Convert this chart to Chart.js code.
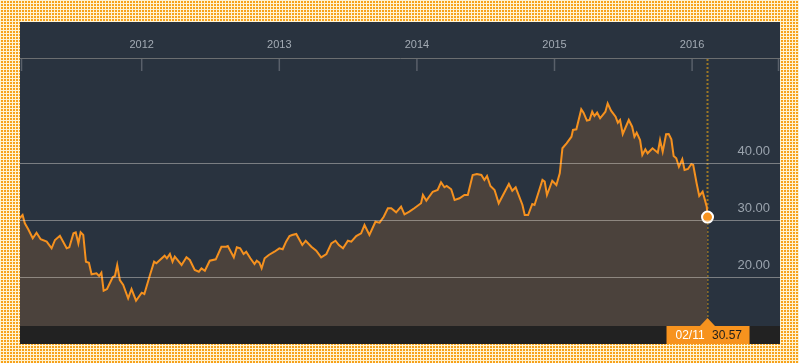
<!DOCTYPE html>
<html>
<head>
<meta charset="utf-8">
<script src="https://cdn.jsdelivr.net/npm/chart.js@4.4.1/dist/chart.umd.min.js"></script>
<style>
  html, body { margin: 0; padding: 0; }
  body {
    width: 799px; height: 363px; overflow: hidden; position: relative;
    background-color: #f7a21b;
    background-image: linear-gradient(90deg, #fff3d2 1px, transparent 1px), linear-gradient(#fff3d2 1px, transparent 1px);
    background-size: 3px 3px;
  }
  #panel { position: absolute; left: 20px; top: 22px; width: 760px; height: 322px; background: #29333f; }
</style>
</head>
<body>
<div id="panel"><canvas id="chart"></canvas></div>
<script>
var dates = ['2011-02-11','2011-02-19','2011-02-25','2011-03-06','2011-03-18','2011-03-28','2011-04-08','2011-04-24','2011-05-07','2011-05-16',
  '2011-05-29','2011-06-16','2011-06-23','2011-07-04','2011-07-10','2011-07-17','2011-07-23','2011-07-30','2011-08-06','2011-08-14',
  '2011-08-21','2011-09-03','2011-09-10','2011-09-16','2011-09-22','2011-10-01','2011-10-16','2011-10-22','2011-10-28','2011-11-04',
  '2011-11-13','2011-11-26','2011-12-05','2011-12-17','2012-01-01','2012-01-08','2012-01-23','2012-02-03','2012-02-09','2012-03-02',
  '2012-03-08','2012-03-16','2012-03-23','2012-03-29','2012-04-16','2012-04-29','2012-05-08','2012-05-21','2012-06-01','2012-06-08',
  '2012-06-17','2012-06-30','2012-07-16','2012-07-31','2012-08-13','2012-08-17','2012-09-02','2012-09-10','2012-09-19','2012-09-28',
  '2012-10-05','2012-10-16','2012-10-27','2012-11-02','2012-11-09','2012-11-15','2012-11-23','2012-12-04','2012-12-19','2013-01-01',
  '2013-01-10','2013-01-19','2013-01-28','2013-02-04','2013-02-15','2013-03-03','2013-03-12','2013-03-27','2013-04-09','2013-04-22',
  '2013-05-06','2013-05-19','2013-05-30','2013-06-08','2013-06-19','2013-07-02','2013-07-11','2013-07-24','2013-08-06','2013-08-15',
  '2013-08-28','2013-09-13','2013-09-24','2013-10-05','2013-10-16','2013-10-25','2013-11-07','2013-11-20','2013-11-29','2013-12-12',
  '2013-12-25','2014-01-12','2014-01-17','2014-01-26','2014-02-12','2014-02-25','2014-03-06','2014-03-15','2014-03-21','2014-04-02',
  '2014-04-11','2014-04-24','2014-05-07','2014-05-16','2014-05-29','2014-06-09','2014-06-21','2014-06-29','2014-07-06','2014-07-15',
  '2014-07-26','2014-08-06','2014-09-02','2014-09-11','2014-09-20','2014-10-08','2014-10-14','2014-10-23','2014-11-03','2014-11-09',
  '2014-11-30','2014-12-06','2014-12-12','2014-12-26','2015-01-06','2015-01-15','2015-01-22','2015-02-02','2015-02-15','2015-02-19',
  '2015-02-28','2015-03-13','2015-03-19','2015-03-28','2015-04-04','2015-04-11','2015-04-17','2015-04-24','2015-05-02','2015-05-16',
  '2015-05-22','2015-05-31','2015-06-12','2015-06-18','2015-06-24','2015-07-01','2015-07-17','2015-07-26','2015-08-01','2015-08-07',
  '2015-08-16','2015-08-22','2015-08-30','2015-09-05','2015-09-18','2015-10-02','2015-10-08','2015-10-15','2015-10-24','2015-10-31',
  '2015-11-07','2015-11-13','2015-11-20','2015-11-27','2015-12-06','2015-12-12','2015-12-21','2015-12-30','2016-01-04','2016-01-13',
  '2016-01-20','2016-01-29','2016-02-09','2016-02-11'];

var values = [30.35,30.93,29.47,28.41,26.83,27.81,26.65,26.23,25.06,26.53,
  27.28,25.06,25.24,27.71,27.88,25.94,27.88,27.41,22.70,22.52,
  20.48,20.65,20.18,20.76,17.58,17.88,19.95,20.18,22.12,19.47,
  18.59,16.24,17.88,15.82,17.23,17.00,20.35,22.70,22.42,23.76,
  23.30,24.06,22.70,23.58,22.12,23.47,23.00,21.23,20.93,21.53,
  21.11,22.87,23.12,25.34,25.34,25.47,23.47,25.24,25.06,24.06,
  24.46,23.30,22.29,22.87,22.52,21.53,23.30,23.88,24.46,25.06,
  24.89,26.23,27.23,27.41,27.58,25.64,26.40,25.34,24.64,23.47,
  24.06,25.94,26.40,25.64,25.06,26.40,26.23,27.23,27.71,29.17,
  27.41,29.75,29.58,30.63,32.12,32.12,31.41,32.40,31.06,31.52,
  32.12,33.00,34.46,33.46,35.04,35.34,36.70,35.82,36.05,35.47,
  33.58,33.88,34.46,34.46,37.99,38.17,37.99,37.11,37.81,36.05,
  35.34,33.00,36.40,35.22,35.82,32.70,30.93,30.93,32.87,32.70,
  37.11,36.81,34.46,36.98,36.23,38.29,42.70,43.58,44.74,45.93,
  46.05,49.58,48.98,47.57,47.69,49.15,48.39,48.98,47.99,49.15,
  50.63,49.33,48.27,47.21,47.69,45.22,47.69,46.51,44.74,45.45,
  44.16,41.52,42.52,41.82,42.70,41.92,44.16,42.10,45.17,45.22,
  44.29,41.34,40.93,39.45,40.76,38.87,39.05,39.93,39.75,36.53,
  34.29,35.04,32.40,30.57];

var xTickYears = [2012, 2013, 2014, 2015, 2016];
var xTickLabels = ['2012', '2013', '2014', '2015', '2016'];
var yTicks = [20, 30, 40];

// date string -> fractional year for the linear x scale
function toYear(s) {
  var p = s.split('-').map(Number);
  var start = Date.UTC(p[0], 0, 1), end = Date.UTC(p[0] + 1, 0, 1);
  return p[0] + (Date.UTC(p[0], p[1] - 1, p[2]) - start) / (end - start);
}

var points = dates.map(function (d, i) { return { x: toYear(d), y: values[i] }; });
var last = points.length - 1;

var panelPlugin = {
  id: 'panel',
  beforeDraw: function (chart) {
    var ctx = chart.ctx, a = chart.chartArea;
    ctx.save();
    ctx.fillStyle = '#29333f';
    ctx.fillRect(0, 0, chart.width, a.bottom);
    ctx.fillStyle = '#222222';
    ctx.fillRect(0, a.bottom, chart.width, chart.height - a.bottom);
    ctx.restore();
  },
  beforeDatasetsDraw: function (chart) {
    var ctx = chart.ctx, a = chart.chartArea;
    var px = chart.scales.x.getPixelForValue(points[last].x);
    ctx.save();
    ctx.strokeStyle = '#9c7724';
    ctx.lineWidth = 2;
    ctx.setLineDash([2, 2]);
    ctx.beginPath();
    ctx.moveTo(px, a.top + 1);
    ctx.lineTo(px, a.bottom);
    ctx.stroke();
    ctx.restore();
  },
  afterDraw: function (chart) {
    var ctx = chart.ctx, a = chart.chartArea, xs = chart.scales.x;
    ctx.save();
    // short tick marks under the top axis
    ctx.strokeStyle = '#59606a';
    ctx.lineWidth = 1.5;
    var marks = [a.left + 1.5, a.right - 1.5].concat(xTickYears.map(function (v) { return xs.getPixelForValue(v); }));
    marks.forEach(function (m) {
      ctx.beginPath();
      ctx.moveTo(m, a.top + 1);
      ctx.lineTo(m, a.top + 13);
      ctx.stroke();
    });
    // last value badge
    var px = xs.getPixelForValue(points[last].x);
    var b = a.bottom;
    ctx.fillStyle = '#f7931e';
    ctx.fillRect(px - 41, b, 83, chart.height - b);
    ctx.beginPath();
    ctx.moveTo(px - 7.5, b);
    ctx.lineTo(px + 7.5, b);
    ctx.lineTo(px, b - 8);
    ctx.closePath();
    ctx.fill();
    var p = dates[last].split('-');
    ctx.font = '12px "Liberation Sans", Arial, sans-serif';
    ctx.textBaseline = 'middle';
    ctx.textAlign = 'left';
    ctx.fillStyle = '#ffffff';
    ctx.fillText(p[1] + '/' + p[2], px - 32, b + 9.5);
    ctx.fillStyle = '#1d1d1d';
    ctx.fillText(values[last].toFixed(2), px + 4.5, b + 9.5);
    ctx.restore();
  }
};

new Chart(document.getElementById('chart'), {
  type: 'line',
  data: {
    datasets: [{
      data: points,
      borderColor: '#f5911f',
      backgroundColor: '#4b423c',
      borderWidth: 2,
      fill: 'start',
      tension: 0,
      pointRadius: function (c) { return c.dataIndex === last ? 5.5 : 0; },
      pointBackgroundColor: '#f7931e',
      pointBorderColor: '#ffffff',
      pointBorderWidth: 2,
      pointHoverRadius: 0
    }]
  },
  options: {
    responsive: true,
    maintainAspectRatio: false,
    animation: false,
    layout: { autoPadding: false, padding: { left: 0, right: 0, top: 0, bottom: 18 } },
    plugins: {
      legend: { display: false },
      tooltip: { enabled: false }
    },
    scales: {
      x: {
        type: 'linear',
        position: 'top',
        min: 2011.1155,
        max: 2016.6388,
        afterBuildTicks: function (s) { s.ticks = xTickYears.map(function (v) { return { value: v }; }); },
        afterFit: function (s) { s.height = 36; s.paddingLeft = 0; s.paddingRight = 0; },
        grid: { display: false },
        border: { display: true, color: '#6b6e70', width: 1 },
        ticks: {
          autoSkip: false,
          maxRotation: 0,
          padding: -2,
          color: '#a3abb4',
          font: { family: '"Liberation Sans", Arial, sans-serif', size: 11 },
          callback: function (v, i) { return xTickLabels[i]; }
        }
      },
      y: {
        position: 'right',
        min: 11.36,
        max: 58.62,
        afterBuildTicks: function (s) { s.ticks = yTicks.map(function (v) { return { value: v }; }); },
        afterFit: function (s) { s.width = 0; s.paddingTop = 0; s.paddingBottom = 0; },
        grid: { color: 'rgba(235,230,225,0.42)', drawTicks: false, z: 1 },
        border: { display: false },
        ticks: {
          mirror: true,
          padding: -10,
          labelOffset: -12,
          z: 1,
          color: '#9aa3ad',
          font: { family: '"Liberation Sans", Arial, sans-serif', size: 13 },
          callback: function (v) { return Number(v).toFixed(2); }
        }
      }
    }
  },
  plugins: [panelPlugin]
});
</script>
</body>
</html>
